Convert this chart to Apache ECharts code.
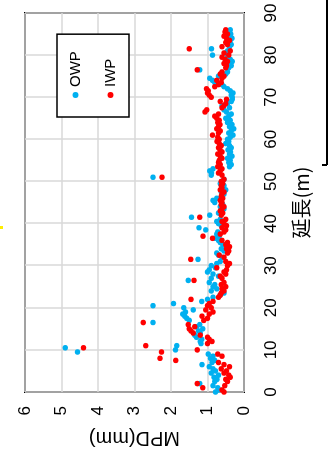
<!DOCTYPE html>
<html>
<head>
<meta charset="utf-8">
<script src="https://cdn.jsdelivr.net/npm/echarts@6/dist/echarts.min.js"></script>
<style>
  html, body { margin: 0; padding: 0; background: #fff; }
  body { width: 331px; height: 458px; position: relative; overflow: hidden; }
  /* chart is laid out landscape and turned a quarter turn counter-clockwise */
  #chart {
    position: absolute; left: 0; top: 0;
    width: 458px; height: 331px;
    transform-origin: 0 0;
    transform: translate(0, 458px) rotate(-90deg);
  }
</style>
</head>
<body>
<div id="chart"></div>
<script>
// Measurement positions along the section (m)
const distance = [
  0, 0.5, 1, 1.5, 2, 2.5, 3, 3.5, 4, 4.5, 5, 5.5, 6, 6.5, 7, 7.5, 8, 8.5, 9, 9.5,
  10, 10.5, 11, 11.5, 12, 12.5, 13, 13.5, 14, 14.5, 15, 15.5, 16, 16.5, 17, 17.5, 18, 18.5, 19, 19.5,
  20, 20.5, 21, 21.5, 22, 22.5, 23, 23.5, 24, 24.5, 25, 25.5, 26, 26.5, 27, 27.5, 28, 28.5, 29, 29.5,
  30, 30.5, 31, 31.5, 32, 32.5, 33, 33.5, 34, 34.5, 35, 35.5, 36, 36.5, 37, 37.5, 38, 38.5, 39, 39.5,
  40, 40.5, 41, 41.5, 42, 42.5, 43, 43.5, 44, 44.5, 45, 45.5, 46, 46.5, 47, 47.5, 48, 48.5, 49, 49.5,
  50, 50.5, 51, 51.5, 52, 52.5, 53, 53.5, 54, 54.5, 55, 55.5, 56, 56.5, 57, 57.5, 58, 58.5, 59, 59.5,
  60, 60.5, 61, 61.5, 62, 62.5, 63, 63.5, 64, 64.5, 65, 65.5, 66, 66.5, 67, 67.5, 68, 68.5, 69, 69.5,
  70, 70.5, 71, 71.5, 72, 72.5, 73, 73.5, 74, 74.5, 75, 75.5, 76, 76.5, 77, 77.5, 78, 78.5, 79, 79.5,
  80, 80.5, 81, 81.5, 82, 82.5, 83, 83.5, 84, 84.5, 85, 85.5, 86
];

// Outer wheel path MPD (mm)
const owpMpd = [
  0.78, 0.70, 0.72, 0.85, 1.21, 0.80, 0.74, 0.82, 0.70, 0.90, 0.78, 0.85, 0.95, 1.15, 0.88, 0.80, 0.92, 0.85, 0.98, 4.56,
  1.88, 4.90, 1.84, 1.18, 1.20, 1.16, 1.30, 1.35, 1.20, 1.25, 1.13, 1.30, 1.21, 2.49, 1.50, 1.57, 1.62, 1.68, 1.60, 1.39,
  1.65, 2.49, 1.93, 1.16, 1.00, 0.85, 0.66, 0.55, 0.90, 0.75, 0.85, 0.80, 0.95, 1.53, 0.90, 0.70, 0.85, 1.00, 0.95, 0.78,
  0.90, 0.75, 0.65, 1.26, 0.60, 0.70, 0.75, 0.55, 0.62, 0.50, 0.58, 0.65, 0.70, 0.80, 0.68, 0.75, 0.72, 1.05, 1.23, 0.62,
  0.70, 0.75, 0.65, 1.44, 0.94, 0.70, 0.60, 0.55, 0.65, 0.58, 0.80, 0.85, 0.75, 0.60, 0.55, 0.62, 0.50, 0.60, 0.55, 0.65,
  0.60, 0.55, 2.49, 0.90, 0.89, 0.94, 0.85, 0.40, 0.35, 0.42, 0.38, 0.45, 0.33, 0.40, 0.37, 0.44, 0.35, 0.40, 0.50, 0.42,
  0.45, 0.38, 0.30, 0.42, 0.35, 0.28, 0.40, 0.33, 0.45, 0.38, 0.50, 0.42, 0.35, 0.48, 0.55, 0.40, 0.60, 0.45, 0.35, 0.32,
  0.32, 0.35, 0.30, 0.38, 0.45, 0.55, 0.60, 0.80, 0.86, 0.94, 0.70, 0.50, 0.45, 1.21, 0.42, 0.35, 0.40, 0.32, 0.38, 0.45,
  0.86, 0.50, 0.45, 0.89, 0.40, 0.35, 0.42, 0.38, 0.33, 0.40, 0.36, 0.42, 0.38
];

// Inner wheel path MPD (mm)
const iwpMpd = [
  0.55, 0.60, 1.13, 0.53, 1.28, 0.45, 0.50, 0.38, 0.42, 0.55, 0.48, 0.62, 0.40, 0.55, 0.70, 1.87, 2.30, 0.60, 0.72, 2.26,
  1.28, 4.40, 2.69, 1.00, 0.88, 0.95, 1.00, 1.20, 1.39, 1.45, 1.50, 1.35, 1.53, 2.76, 1.10, 1.00, 1.15, 0.95, 0.85, 1.05,
  0.90, 1.00, 0.95, 0.85, 1.45, 0.70, 0.65, 0.62, 0.55, 0.60, 0.50, 0.62, 0.55, 1.37, 0.60, 0.65, 0.50, 0.55, 0.48, 0.75,
  0.45, 0.40, 0.50, 1.46, 0.55, 0.68, 0.45, 0.42, 0.48, 0.40, 0.50, 0.45, 0.60, 0.86, 1.12, 0.65, 0.55, 0.50, 0.60, 0.48,
  0.55, 0.60, 0.50, 1.21, 0.62, 0.58, 0.65, 0.60, 0.55, 0.62, 0.60, 0.65, 0.58, 0.62, 0.60, 0.55, 0.65, 0.60, 0.62, 0.58,
  0.62, 0.55, 2.25, 0.60, 0.70, 0.65, 0.60, 0.72, 0.65, 0.70, 0.68, 0.60, 0.65, 0.72, 0.60, 0.66, 0.70, 0.62, 0.68, 0.74,
  0.68, 0.72, 0.86, 0.70, 0.65, 0.75, 0.70, 0.66, 0.72, 0.68, 0.75, 0.80, 0.70, 1.07, 1.02, 0.60, 0.55, 0.50, 0.65, 0.48,
  0.90, 0.95, 1.00, 0.98, 1.03, 0.80, 0.70, 0.62, 0.75, 0.60, 0.55, 0.65, 0.60, 1.28, 0.50, 0.48, 0.55, 0.45, 0.52, 0.60,
  0.42, 0.55, 0.38, 1.50, 0.60, 0.45, 0.50, 0.40, 0.48, 0.55, 0.45, 0.52, 0.50
];

const seriesNames = ['OWP', 'IWP'];
const seriesColors = ['#00B0F0', '#FF0000'];
const xTitle = '延長(m)';
const yTitle = 'MPD(mm)';

const font = '"Liberation Sans", Arial, "Noto Sans CJK JP", sans-serif';

const chart = echarts.init(document.getElementById('chart'), null, { renderer: 'canvas' });

chart.setOption({
  animation: false,
  backgroundColor: '#fff',
  textStyle: { fontFamily: font },
  grid: {
    left: 66, right: 13, top: 25, bottom: 87,
    show: true, borderColor: '#000', borderWidth: 2, backgroundColor: 'transparent'
  },
  legend: {
    orient: 'vertical',
    left: 341, top: 57,
    data: seriesNames,
    icon: 'circle',
    itemWidth: 6, itemHeight: 6,
    itemGap: 20,
    padding: [11, 17, 11, 19],
    borderColor: '#000', borderWidth: 1.5, backgroundColor: '#fff',
    textStyle: { fontSize: 15, color: '#000', fontFamily: font }
  },
  xAxis: {
    type: 'value', min: 0, max: 90, interval: 10,
    name: xTitle, nameLocation: 'middle', nameGap: 47,
    nameTextStyle: { fontSize: 20, color: '#000', fontFamily: '"Noto Sans CJK JP", sans-serif' },
    axisLine: { show: false }, axisTick: { show: false },
    axisLabel: { fontSize: 17, color: '#000', margin: 19 },
    splitLine: { show: true, lineStyle: { color: '#d9d9d9', width: 1.5 } }
  },
  yAxis: {
    type: 'value', min: 0, max: 6, interval: 1,
    name: yTitle, nameLocation: 'middle', nameGap: 36,
    nameTextStyle: { fontSize: 20, color: '#000' },
    axisLine: { show: false }, axisTick: { show: false },
    axisLabel: { fontSize: 17, color: '#000', margin: 14 },
    splitLine: { show: true, lineStyle: { color: '#d9d9d9', width: 1.5 } }
  },
  series: seriesNames.map((name, k) => ({
    name,
    type: 'scatter',
    symbol: 'circle',
    symbolSize: 5.5,
    itemStyle: { color: seriesColors[k], opacity: 1 },
    data: distance.map((d, i) => [d, (k === 0 ? owpMpd : iwpMpd)[i]])
  })),
  graphic: [
    // neighbouring frame edge and stray marks at the page border
    { type: 'line', shape: { x1: 293, y1: 327, x2: 458, y2: 327 }, style: { stroke: '#000', lineWidth: 2 } },
    { type: 'line', shape: { x1: 293, y1: 327, x2: 293, y2: 322 }, style: { stroke: '#000', lineWidth: 2 } },
    { type: 'line', shape: { x1: 229, y1: 1.5, x2: 232, y2: 1.5 }, style: { stroke: '#ffee00', lineWidth: 3 } }
  ]
});
</script>
</body>
</html>
